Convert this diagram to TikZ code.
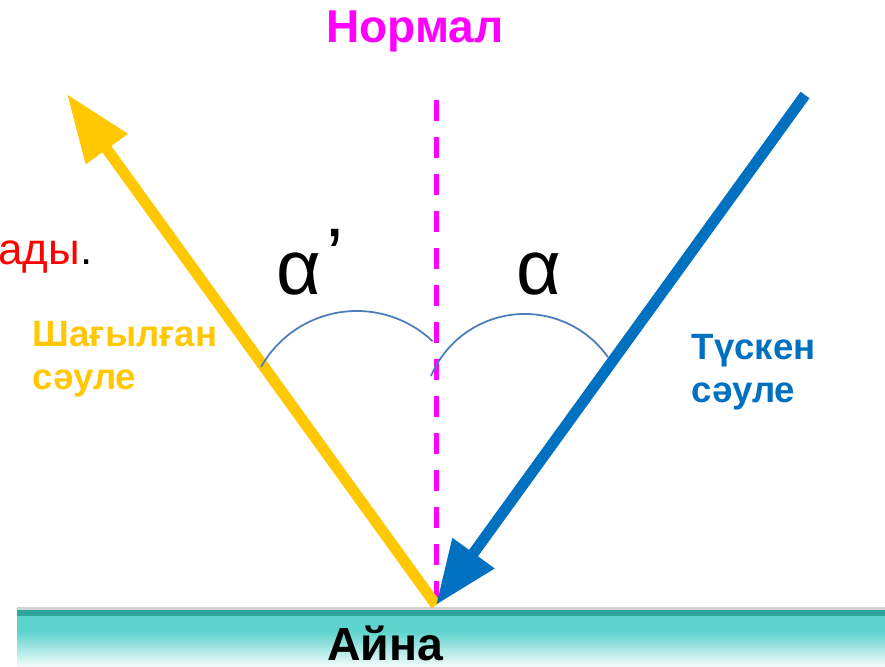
\documentclass[tikz,border=0pt]{standalone}
\usepackage{fontspec}
\setmainfont{Liberation Sans}
\usetikzlibrary{arrows.meta, positioning}
\definecolor{rayyellow}{HTML}{FFC800}
\definecolor{rayblue}{HTML}{0070C0}
\definecolor{normalpink}{HTML}{FF00FF}
\definecolor{arcblue}{HTML}{4A7EBB}
\definecolor{mirrorteal}{HTML}{5CD3CC}
\definecolor{mirrordark}{HTML}{2CA69C}
\tikzstyle{reflray}    = [line width=0.11cm, draw=rayyellow, -{Triangle[length=6.8mm, width=4.9mm]}]
\tikzstyle{incray}     = [line width=0.11cm, draw=rayblue, -{Triangle[length=6.4mm, width=4.9mm]}]
\tikzstyle{normalline} = [line width=0.05cm, draw=normalpink, dash pattern=on 0.21cm off 0.16cm]
\tikzstyle{anglearc}   = [draw=arcblue, line width=0.5pt]
\tikzstyle{mirrortext} = [anchor=base, inner sep=0, font=\bfseries\fontsize{13.2}{16}\selectfont]
\tikzstyle{normaltext} = [anchor=base, inner sep=0, text=normalpink,
                          font=\bfseries\fontsize{13.1}{16}\selectfont]
\tikzstyle{raytext}    = [anchor=north west, inner sep=0, align=left,
                          font=\bfseries\fontsize{10.4}{12.2}\selectfont]
\tikzstyle{angletext}  = [anchor=base west, inner sep=0, font=\fontsize{22}{26}\selectfont]

\begin{document}
\begin{tikzpicture}[x=0.01cm, y=0.01cm]
  \clip (0,0) rectangle (885,667);

  % --- Mirror ---
  \shade[top color=mirrorteal, bottom color=mirrorteal!6] (17,0) rectangle (885,36);
  \fill[mirrorteal] (17,36) rectangle (885,52);
  \fill[mirrordark] (17,51) rectangle (885,57);
  \fill[gray!35] (17,57) rectangle (885,60);
  \node (m_lbl) [mirrortext] at (385,6) {Айна};

  % --- Normal ---
  \coordinate (O) at (436,62);
  \coordinate (n_top) at (436,567);
  \draw[normalline] (n_top) -- (O);
  \node (n_lbl) [normaltext] at (415,624) {Нормал};

  % --- Rays ---
  \coordinate (r_tip) at (67,573);
  \coordinate (i_start) at (805,572);
  \draw[reflray] (O) -- (r_tip);
  \draw[incray] (i_start) -- (O);

  % --- Angles ---
  \coordinate (a_refl) at (261,300);
  \coordinate (a_inc) at (431,291);
  \draw[anglearc] (a_refl) arc[start angle=150.6, end angle=46.5, radius=110];
  \draw[anglearc] (a_inc) arc[start angle=157, end angle=35.2, radius=101.8];
  \node (ar_lbl) [angletext] at (276,372) {α\kern0.06em\raisebox{0.16em}{’}};
  \node (ai_lbl) [angletext] at (516,372) {α};

  % --- Labels ---
  \node (r_lbl) [raytext, text=rayyellow] at (32,346) {Шағылған\\сәуле};
  \node (i_lbl) [raytext, text=rayblue] at (691,333) {Түскен\\сәуле};
  \node (cut_lbl) [anchor=base east, inner sep=0, font=\fontsize{12.5}{15}\selectfont]
        at (93,402) {\textcolor{red}{ады}.};

\end{tikzpicture}
\end{document}
